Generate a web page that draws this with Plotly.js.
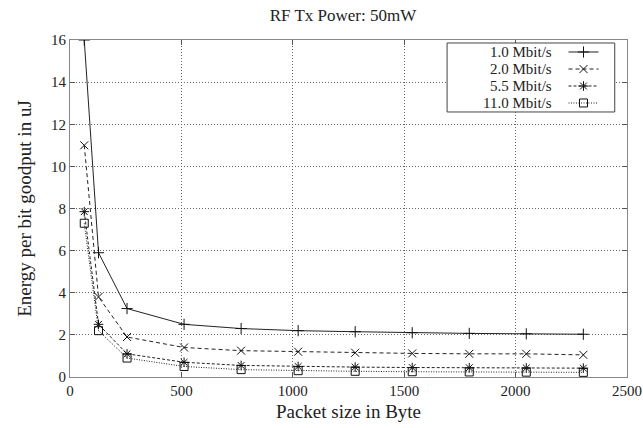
<!DOCTYPE html>
<html>
<head>
<meta charset="utf-8">
<script src="https://cdn.plot.ly/plotly-3.0.1.min.js"></script>
<style>html,body{margin:0;padding:0;background:#fff;}#chart{width:643px;height:428px;}</style>
</head>
<body>
<div id="chart"></div>
<script>
const packetSizes = [64, 128, 256, 512, 768, 1024, 1280, 1536, 1792, 2048, 2304];
const rate1 = [16.0, 5.9, 3.25, 2.5, 2.3, 2.2, 2.15, 2.1, 2.07, 2.05, 2.03];
const rate2 = [11.0, 3.8, 1.9, 1.4, 1.25, 1.2, 1.15, 1.12, 1.1, 1.1, 1.05];
const rate55 = [7.85, 2.5, 1.1, 0.7, 0.55, 0.5, 0.47, 0.45, 0.44, 0.43, 0.42];
const rate11 = [7.3, 2.2, 0.9, 0.5, 0.35, 0.3, 0.27, 0.25, 0.24, 0.23, 0.22];
const seriesNames = ['1.0 Mbit/s', '2.0 Mbit/s', '5.5 Mbit/s', '11.0 Mbit/s'];

const font = '"Liberation Serif", "Times New Roman", serif';
const legendRowsY = [0.9644, 0.9139, 0.8635, 0.8131];
const legendIds = ['legend', 'legend2', 'legend3', 'legend4'];

function tr(y, i, dash, symbol) {
  return {
    x: packetSizes, y: y, name: '', type: 'scatter', mode: 'lines+markers',
    legend: legendIds[i],
    line: {color: '#222', width: 1, dash: dash},
    marker: {symbol: symbol, size: 8, color: '#111', line: {color: '#111', width: 1}}
  };
}
const data = [
  tr(rate1, 0, 'solid', 'cross-thin-open'),
  tr(rate2, 1, '4px,3px', 'x-thin-open'),
  tr(rate55, 2, '3px,2px', 'asterisk-open'),
  tr(rate11, 3, '1px,1.5px', 'square-open')
];
const axisCommon = {
  showline: true, linecolor: '#888', linewidth: 1, mirror: 'ticks',
  ticks: 'inside', ticklen: 5, tickcolor: '#555',
  showgrid: true, gridcolor: '#666', griddash: '1px,2px', gridwidth: 1,
  zeroline: false, tickfont: {family: font, size: 15, color: '#222'}
};
const layout = {
  width: 643, height: 428,
  margin: {l: 70, r: 16, t: 40, b: 51},
  paper_bgcolor: '#fff', plot_bgcolor: '#fff',
  font: {family: font, color: '#222'},
  title: {text: 'RF Tx Power: 50mW', font: {family: font, size: 17, color: '#222'}, x: 0.49, xref: 'paper', xanchor: 'center', y: 0.965, yanchor: 'middle'},
  xaxis: Object.assign({}, axisCommon, {range: [0, 2500], dtick: 500, tick0: 0,
    title: {text: 'Packet size in Byte', font: {family: font, size: 19, color: '#222'}, standoff: 6}}),
  yaxis: Object.assign({}, axisCommon, {range: [0, 16], dtick: 2, tick0: 0,
    title: {text: 'Energy per bit goodput in uJ', font: {family: font, size: 19, color: '#222'}, standoff: 14}}),
  showlegend: true,
  shapes: [{type: 'rect', xref: 'paper', yref: 'paper', x0: 0.677, x1: 0.978, y0: 0.7864, y1: 0.9911,
    line: {color: '#444', width: 1}, fillcolor: 'rgba(255,255,255,1)', layer: 'above'}],
  annotations: seriesNames.map((n, i) => ({
    text: n, xref: 'paper', yref: 'paper', x: 0.867, y: legendRowsY[i],
    xanchor: 'right', yanchor: 'middle', showarrow: false, borderpad: 0,
    font: {family: font, size: 15, color: '#222'}
  }))
};
legendIds.forEach((id, i) => {
  layout[id] = {x: 0.886, y: legendRowsY[i], xanchor: 'left', yanchor: 'middle',
    bgcolor: 'rgba(0,0,0,0)', borderwidth: 0, font: {family: font, size: 10},
    itemwidth: 30};
});
Plotly.newPlot('chart', data, layout, {displayModeBar: false, staticPlot: true});
</script>
</body>
</html>
